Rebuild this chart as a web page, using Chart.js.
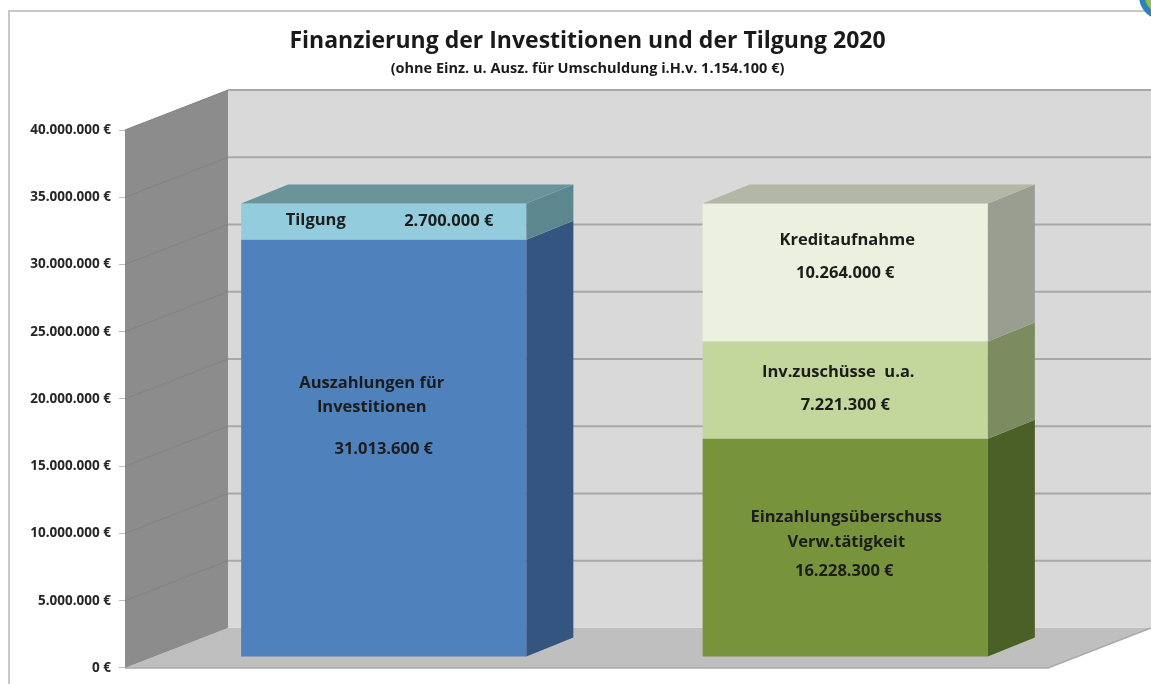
<!DOCTYPE html>
<html lang="de">
<head>
<meta charset="utf-8">
<title>Finanzierung der Investitionen und der Tilgung 2020</title>
<script src="https://cdn.jsdelivr.net/npm/chart.js@4.4.1/dist/chart.umd.min.js"></script>
<style>
  html, body { margin: 0; padding: 0; background: #fff; }
  #wrap { width: 1151px; height: 684px; }
</style>
</head>
<body>
<div id="wrap"><canvas id="chart" width="1151" height="684"></canvas></div>
<script>
"use strict";

/* ── Data ─────────────────────────────────────────────────────────────── */
const BARS = ["Auszahlungen", "Finanzierung"];
const Y_MIN = 0, Y_MAX = 40000000, Y_STEP = 5000000;

const auszahlungen = [31013600, null];
const tilgung      = [2700000, null];
const einzahlung   = [null, 16228300];
const zuschuesse   = [null, 7221300];
const kredit       = [null, 10264000];

const TITLE    = "Finanzierung der Investitionen und der Tilgung 2020";
const SUBTITLE = "(ohne Einz. u. Ausz. für Umschuldung i.H.v. 1.154.100 €)";

/* text lines written into each segment (value line is appended) */
const LINES = {
  auszahlungen: ["Auszahlungen für", "Investitionen"],
  tilgung:      ["Tilgung"],
  einzahlung:   ["Einzahlungsüberschuss", "Verw.tätigkeit"],
  zuschuesse:   ["Inv.zuschüsse  u.a."],
  kredit:       ["Kreditaufnahme"],
};

/* ── Look ─────────────────────────────────────────────────────────────── */
const FONT = "'Open Sans', Lato, sans-serif";
const DEPTH = { x: 103, y: -40 };   // side/back walls
const SHIFT = { x: 28,  y: -11 };   // front plane of the bars
const BAR_D = { x: 47,  y: -19 };   // bar depth

// [dx from bar centre, dy from segment top] for each text line
const PLACE = {
  auszahlungen: [[-12, 143], [-12, 167], [0, 209]],
  tilgung:      [[-68, 17], [65, 18]],
  einzahlung:   [[1, 79], [1, 104], [-1, 133]],
  zuschuesse:   [[-7, 31], [0, 64]],
  kredit:       [[2, 37], [0, 70]],
};

const euro = (v) => String(Math.round(v)).replace(/\B(?=(\d{3})+(?!\d))/g, ".") + " €";

function poly(ctx, pts, fill) {
  ctx.beginPath();
  pts.forEach(([x, y], i) => (i ? ctx.lineTo(x, y) : ctx.moveTo(x, y)));
  ctx.closePath();
  ctx.fillStyle = fill;
  ctx.fill();
}

/* ── 3D scene: walls, floor, bar sides, labels ───────────────────────── */
const scene = {
  id: "scene",
  beforeDraw(chart) {
    const { ctx, chartArea: a, scales: { y } } = chart;
    const W = chart.width, H = chart.height;
    const y0 = y.getPixelForValue(Y_MIN), yT = y.getPixelForValue(Y_MAX);
    const bx = a.left + DEPTH.x;
    ctx.save();
    ctx.fillStyle = "#fff";
    ctx.fillRect(0, 0, W, H);

    // slide frame
    ctx.strokeStyle = "#c8c8c8"; ctx.lineWidth = 2;
    ctx.beginPath(); ctx.moveTo(9, H); ctx.lineTo(9, 11); ctx.lineTo(W, 11); ctx.stroke();
    // logo corner
    ctx.beginPath(); ctx.arc(1163, -4, 24, 0, Math.PI * 2);
    ctx.fillStyle = "#2f7fc1"; ctx.fill();
    ctx.beginPath(); ctx.arc(1163, -4, 18, 0.5 * Math.PI, 1.1 * Math.PI);
    ctx.lineTo(1163, -4); ctx.fillStyle = "#8cc63f"; ctx.fill();

    // back wall
    ctx.fillStyle = "#d9d9d9";
    ctx.fillRect(bx, yT + DEPTH.y, W - bx, y0 - yT);
    // floor
    poly(ctx, [[a.left, y0], [a.right, y0], [a.right + DEPTH.x, y0 + DEPTH.y], [bx, y0 + DEPTH.y]], "#bfbfbf");
    ctx.strokeStyle = "#a9a9a9"; ctx.lineWidth = 1.5;
    ctx.beginPath(); ctx.moveTo(a.left, y0); ctx.lineTo(a.right, y0); ctx.lineTo(a.right + DEPTH.x, y0 + DEPTH.y); ctx.stroke();
    // left wall
    poly(ctx, [[a.left, yT], [bx, yT + DEPTH.y], [bx, y0 + DEPTH.y], [a.left, y0]], "#8c8c8c");

    // grid lines on the walls
    y.ticks.forEach((t) => {
      if (t.value === Y_MIN) return;
      const py = y.getPixelForValue(t.value);
      ctx.strokeStyle = "#a8a8a8"; ctx.lineWidth = 2;
      ctx.beginPath(); ctx.moveTo(bx, py + DEPTH.y); ctx.lineTo(W, py + DEPTH.y); ctx.stroke();
      ctx.strokeStyle = "#828282"; ctx.lineWidth = 1;
      ctx.beginPath(); ctx.moveTo(a.left, py); ctx.lineTo(bx, py + DEPTH.y); ctx.stroke();
    });
    ctx.restore();
  },
  beforeDatasetsDraw(chart) {
    chart.ctx.save();
    chart.ctx.translate(SHIFT.x, SHIFT.y);
  },
  afterDatasetsDraw(chart) {
    const ctx = chart.ctx;
    ctx.restore();
    const sets = chart.data.datasets;

    // side faces + top face of the highest segment
    BARS.forEach((_, i) => {
      let topSet = -1;
      sets.forEach((ds, di) => {
        if (ds.data[i] == null) return;
        topSet = di;
        const bar = chart.getDatasetMeta(di).data[i];
        const r = bar.x + bar.width / 2 + SHIFT.x;
        const t = Math.min(bar.y, bar.base) + SHIFT.y;
        const b = Math.max(bar.y, bar.base) + SHIFT.y;
        poly(ctx, [[r, t], [r + BAR_D.x, t + BAR_D.y], [r + BAR_D.x, b + BAR_D.y], [r, b]], ds.sideColor);
      });
      if (topSet < 0) return;
      const ds = sets[topSet];
      const bar = chart.getDatasetMeta(topSet).data[i];
      const l = bar.x - bar.width / 2 + SHIFT.x;
      const r = bar.x + bar.width / 2 + SHIFT.x;
      const t = Math.min(bar.y, bar.base) + SHIFT.y;
      poly(ctx, [[l, t], [l + BAR_D.x, t + BAR_D.y], [r + BAR_D.x, t + BAR_D.y], [r, t]], ds.topColor);
    });

    // segment labels
    ctx.save();
    ctx.font = "bold 16.5px " + FONT;
    ctx.fillStyle = "#1c1c1c";
    ctx.textAlign = "center";
    ctx.textBaseline = "middle";
    sets.forEach((ds, di) => {
      chart.getDatasetMeta(di).data.forEach((bar, i) => {
        if (ds.data[i] == null) return;
        const cx = bar.x + SHIFT.x;
        const t = Math.min(bar.y, bar.base) + SHIFT.y;
        const lines = [...LINES[ds.key], euro(ds.data[i])];
        PLACE[ds.key].forEach(([dx, dy], k) => ctx.fillText(lines[k], cx + dx, t + dy));
      });
    });
    ctx.restore();
  },
};

/* ── Chart ────────────────────────────────────────────────────────────── */
function seg(key, label, data, front, side, top) {
  return {
    key, label, data,
    backgroundColor: front, sideColor: side, topColor: top,
    borderWidth: 0, barPercentage: 0.618, categoryPercentage: 1,
  };
}

new Chart(document.getElementById("chart"), {
  type: "bar",
  data: {
    labels: BARS,
    datasets: [
      seg("auszahlungen", "Auszahlungen für Investitionen", auszahlungen, "#4f81bd", "#34557f", "#5b7fa8"),
      seg("tilgung", "Tilgung", tilgung, "#93cddd", "#5d878e", "#6a939a"),
      seg("einzahlung", "Einzahlungsüberschuss Verw.tätigkeit", einzahlung, "#77933c", "#4b6027", "#6b7f45"),
      seg("zuschuesse", "Inv.zuschüsse u.a.", zuschuesse, "#c3d69b", "#7d8b61", "#a2ae86"),
      seg("kredit", "Kreditaufnahme", kredit, "#ebf1de", "#9a9e91", "#b3b8a6"),
    ],
  },
  options: {
    responsive: false,
    animation: false,
    layout: { padding: { left: 24, right: 0, top: 0, bottom: 16 } },
    plugins: {
      legend: { display: false },
      tooltip: { enabled: false },
      title: {
        display: true, text: TITLE, color: "#1a1a1a",
        font: { family: FONT, size: 23, weight: "bold" },
        padding: { top: 28, bottom: 4 },
      },
      subtitle: {
        display: true, text: SUBTITLE, color: "#1a1a1a",
        font: { family: FONT, size: 14.5, weight: "bold" },
        padding: { top: 1, bottom: 52 },
      },
    },
    scales: {
      x: { stacked: true, display: false },
      y: {
        stacked: true, min: Y_MIN, max: Y_MAX,
        afterFit: (s) => { s.width = 101; },
        border: { display: false },
        grid: { drawOnChartArea: false, drawTicks: true, tickLength: 6, color: "#bdbdbd" },
        ticks: {
          stepSize: Y_STEP, padding: 8, color: "#262626",
          font: { family: FONT, size: 13.5, weight: "bold" },
          callback: (v) => euro(v),
        },
      },
      // empty right-hand axis: keeps room for the receding floor
      depth: {
        type: "linear", position: "right", display: true,
        afterFit: (s) => { s.width = 103; },
        border: { display: false },
        grid: { display: false },
        ticks: { display: false },
      },
    },
  },
  plugins: [scene],
});
</script>
</body>
</html>
